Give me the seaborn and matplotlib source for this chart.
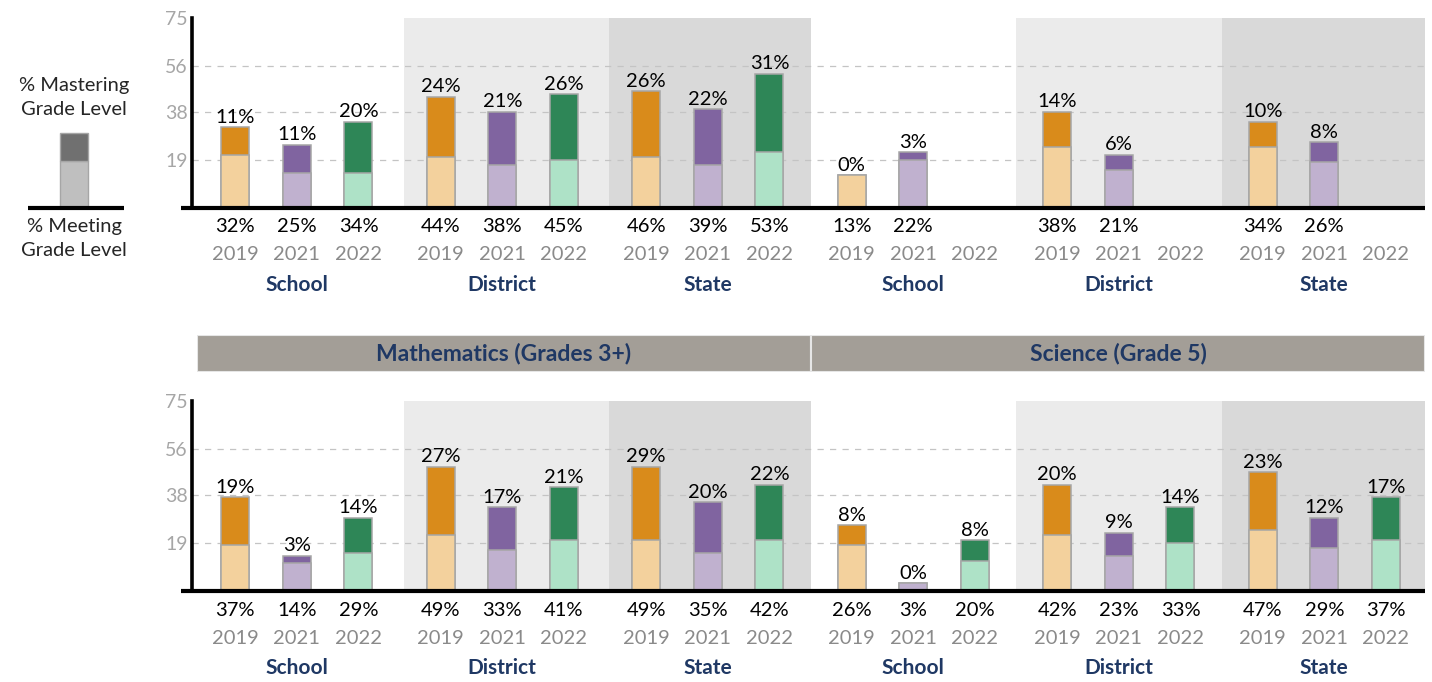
import numpy as np
import pandas as pd
import seaborn as sns
import matplotlib.pyplot as plt
from matplotlib.patches import Rectangle
from matplotlib.transforms import blended_transform_factory

#Chart data: % meeting (whole bar) and % mastering (dark top part) per group, years 2019/2021/2022
groups = ["School", "District", "State"]
years = ["2019", "2021", "2022"]
headers = ["Mathematics (Grades 3+)", "Science (Grade 5)"]
y_ticks = [19, 38, 56, 75]

topLeftMeet = [[32, 25, 34], [44, 38, 45], [46, 39, 53]]
topLeftMaster = [[11, 11, 20], [24, 21, 26], [26, 22, 31]]
topRightMeet = [[13, 22, np.nan], [38, 21, np.nan], [34, 26, np.nan]]
topRightMaster = [[0, 3, np.nan], [14, 6, np.nan], [10, 8, np.nan]]

mathMeet = [[37, 14, 29], [49, 33, 41], [49, 35, 42]]
mathMaster = [[19, 3, 14], [27, 17, 21], [29, 20, 22]]
sciMeet = [[26, 3, 20], [42, 23, 33], [47, 29, 37]]
sciMaster = [[8, 0, 8], [20, 9, 14], [23, 12, 17]]

legendParts = [18.6, 11.0]  # meeting / mastering sample bar

#Plot options
sns.set_style("white")
plt.rcParams['font.family'] = ['Lato', 'DejaVu Sans']
darkPal = {"2019": "#d98b1b", "2021": "#8064a0", "2022": "#2e8657"}
lightPal = {"2019": "#f3d19d", "2021": "#c0b1cf", "2022": "#aee2c7"}
bandCols = {"School": None, "District": "#ebebeb", "State": "#d9d9d9"}
navy = "#1f3864"
edge = "#a6a6a6"
numSize = 14.5


def buildFrame(blocks):
    rows = []
    for b, (meet, master) in enumerate(blocks):
        for g, grp in enumerate(groups):
            for y, yr in enumerate(years):
                rows.append({"slot": f"{b}|{grp}", "group": grp, "year": yr,
                             "meet": meet[g][y], "master": master[g][y]})
    df = pd.DataFrame(rows)
    df["light"] = df["meet"] - df["master"]
    return df


def drawRow(ax, df):
    order = list(dict.fromkeys(df["slot"]))
    xr = 5.49
    for k, slot in enumerate(order):
        col = bandCols[slot.split("|")[1]]
        if col:
            shift = 0.02 if k < 3 else 0.0
            lo = k - 0.5 + shift
            hi = min(k + 0.5 + (shift if k < 2 else 0.0), xr)
            ax.axvspan(lo, hi, color=col, zorder=0, lw=0)
    for t in y_ticks[:-1]:
        ax.axhline(t, color="#c4c4c4", lw=0.9, ls=(0, (5, 5)), zorder=1)

    common = dict(data=df, x="slot", hue="year", order=order, hue_order=years,
                  width=0.9, gap=0.545, edgecolor=edge, linewidth=1.1, saturation=1,
                  legend=False, ax=ax, zorder=3, errorbar=None)
    sns.barplot(y="meet", palette=darkPal, **common)
    sns.barplot(y="light", palette=lightPal, **common)

    trans = blended_transform_factory(ax.transData, ax.transAxes)
    offs = [-0.3, 0.0, 0.3]
    for k, slot in enumerate(order):
        sub = df[df["slot"] == slot]
        for i, yr in enumerate(years):
            r = sub[sub["year"] == yr].iloc[0]
            x = k + offs[i]
            if not np.isnan(r["meet"]):
                ax.annotate(f"{r['master']:.0f}%", xy=(x, r["meet"]), xytext=(0, 1),
                            textcoords="offset points", ha="center", va="bottom",
                            fontsize=numSize, color="black", zorder=5)
                ax.annotate(f"{r['meet']:.0f}%", xy=(x, 0), xycoords=trans, xytext=(0, -19),
                            textcoords="offset pixels", ha="center", va="center",
                            fontsize=numSize, color="black", annotation_clip=False)
            ax.annotate(yr, xy=(x, 0), xycoords=trans, xytext=(0, -47),
                        textcoords="offset pixels", ha="center", va="center",
                        fontsize=numSize, color="#8a8a8a", annotation_clip=False)
        ax.annotate(slot.split("|")[1], xy=(k, 0), xycoords=trans, xytext=(0, -77),
                    textcoords="offset pixels", ha="center", va="center",
                    fontsize=15, color=navy, fontweight="bold", annotation_clip=False)

    ax.set_xlim(-0.51, xr)
    ax.set_ylim(0, 75)
    ax.set_xticks([])
    ax.set_yticks(y_ticks)
    ax.set_yticklabels([str(t) for t in y_ticks], color="#a6a6a6", fontsize=14)
    ax.tick_params(axis="y", length=0, pad=3)
    ax.set_xlabel("")
    ax.set_ylabel("")
    for s in ["top", "right", "bottom"]:
        ax.spines[s].set_visible(False)
    ax.spines["left"].set_color("black")
    ax.spines["left"].set_linewidth(2.6)
    ax.plot([-0.009, 1.0], [0, 0], transform=ax.transAxes, color="black",
            lw=3, clip_on=False, zorder=6, solid_capstyle="butt")


W, H = 1432, 682
fig = plt.figure(figsize=(W / 100, H / 100), dpi=100)

axTop = fig.add_axes([192 / W, 1 - 208 / H, 1233 / W, 190 / H])
drawRow(axTop, buildFrame([(topLeftMeet, topLeftMaster), (topRightMeet, topRightMaster)]))

axBot = fig.add_axes([192 / W, 1 - 591 / H, 1233 / W, 190 / H])
drawRow(axBot, buildFrame([(mathMeet, mathMaster), (sciMeet, sciMaster)]))

#Subject header bar
axHead = fig.add_axes([197 / W, 1 - 372 / H, 1228 / W, 37 / H])
axHead.set_xlim(0, 2)
axHead.set_ylim(0, 1)
axHead.axis("off")
for i, txt in enumerate(headers):
    axHead.add_patch(Rectangle((i, 0), 1, 1, facecolor="#a39e97", edgecolor="#e6e6e6", lw=1.5))
    axHead.text(i + 0.5, 0.5, txt, ha="center", va="center", fontsize=16.5,
                fontweight="bold", color=navy)

#Legend sample bar
axLeg = fig.add_axes([28 / W, 1 - 208 / H, 96 / W, 190 / H])
axLeg.set_xlim(0, 1)
axLeg.set_ylim(0, 75)
axLeg.axis("off")
axLeg.bar([0.48], [legendParts[0]], width=0.29, color="#bfbfbf", edgecolor=edge, lw=1)
axLeg.bar([0.48], [legendParts[1]], bottom=[legendParts[0]], width=0.29, color="#707070",
          edgecolor=edge, lw=1)
axLeg.plot([0, 1], [0, 0], color="black", lw=3, solid_capstyle="butt", clip_on=False)
axLeg.text(0.48, 43.5, "% Mastering\nGrade Level", ha="center", va="center",
           fontsize=14.5, linespacing=1.5)
axLeg.text(0.48, -11.9, "% Meeting\nGrade Level", ha="center", va="center",
           fontsize=14.5, linespacing=1.5)

fig.savefig("out.png", dpi=100)
